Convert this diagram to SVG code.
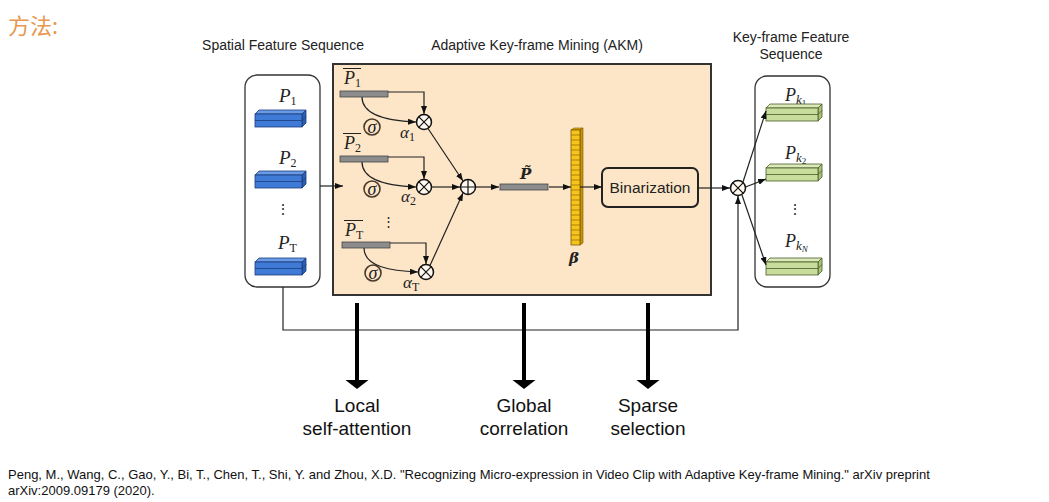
<svg xmlns="http://www.w3.org/2000/svg" xmlns:xlink="http://www.w3.org/1999/xlink" width="1049" height="502" viewBox="0 0 1049 502">
<style>
.lbl{font-family:"Liberation Sans",Arial,sans-serif;fill:#222;}
.hdr{font-size:14px;text-anchor:middle;}
.big{font-size:19px;text-anchor:middle;fill:#111;}
.cite{font-size:13px;fill:#111;}
.math{font-family:"Liberation Serif","DejaVu Serif",serif;font-style:italic;fill:#222;}
.sub{font-style:normal;font-size:12px;}
.ln{fill:none;stroke:#222;stroke-width:1.2;}
.sig{fill:none;stroke:#4a3a2a;stroke-width:1.6;}
.bar{fill:#8c8c8c;stroke:#444;stroke-width:0.8;}
.thick{stroke:#000;stroke-width:4;}
</style>
<defs>
<marker id="ah" viewBox="0 0 8 6" markerWidth="8" markerHeight="6" refX="8" refY="3" orient="auto" markerUnits="userSpaceOnUse">
<path d="M0,0 L8,3 L0,6 z" fill="#111"/>
</marker>
<g id="blueBlock">
<path d="M0,4 L4,0 L51,0 L47,4 z" fill="#6a9be6" stroke="#1c3c7c" stroke-width="0.8"/>
<path d="M47,4 L51,0 L51,13 L47,17 z" fill="#2d5fb0" stroke="#1c3c7c" stroke-width="0.8"/>
<rect x="0" y="4" width="47" height="13" fill="#3f7ad6" stroke="#1c3c7c" stroke-width="0.8"/>
<line x1="0" y1="10.5" x2="47" y2="10.5" stroke="#1c3c7c" stroke-width="0.8"/>
<line x1="47" y1="10.5" x2="51" y2="6.5" stroke="#1c3c7c" stroke-width="0.8"/>
</g>
<g id="greenBlock">
<path d="M0,4 L4,0 L56,0 L52,4 z" fill="#dbeab8" stroke="#4a5a2a" stroke-width="0.8"/>
<path d="M52,4 L56,0 L56,13 L52,17 z" fill="#a9c47a" stroke="#4a5a2a" stroke-width="0.8"/>
<rect x="0" y="4" width="52" height="13" fill="#c8dd9c" stroke="#4a5a2a" stroke-width="0.8"/>
<line x1="0" y1="10.5" x2="52" y2="10.5" stroke="#4a5a2a" stroke-width="0.8"/>
<line x1="52" y1="10.5" x2="56" y2="6.5" stroke="#4a5a2a" stroke-width="0.8"/>
</g>
<g id="otimes">
<circle cx="0" cy="0" r="7.5" fill="#fff8ee" stroke="#111" stroke-width="1.5"/>
<path d="M-5.3,-5.3 L5.3,5.3 M5.3,-5.3 L-5.3,5.3" stroke="#111" stroke-width="1.2"/>
</g>
<g id="sigma">
<circle cx="0" cy="0" r="8" class="sig"/>
</g>
</defs>

<rect width="1049" height="502" fill="#ffffff"/>

<text x="8" y="34" font-family="'Noto Sans CJK SC',sans-serif" font-size="22" fill="#E8974F">方法:</text>

<g id="headers">
<text class="lbl hdr" x="283" y="50">Spatial Feature Sequence</text>
<text class="lbl hdr" x="537" y="50">Adaptive Key-frame Mining (AKM)</text>
<text class="lbl hdr" x="791" y="42">Key-frame Feature</text>
<text class="lbl hdr" x="791" y="59">Sequence</text>
</g>

<g id="spatial-seq">
<rect x="245" y="75" width="75" height="212" rx="12" fill="#fff" stroke="#333" stroke-width="1.3"/>
<text class="math" x="279" y="102" font-size="19">P<tspan class="sub" dy="3">1</tspan></text>
<use xlink:href="#blueBlock" x="255" y="110"/>
<text class="math" x="279" y="164" font-size="19">P<tspan class="sub" dy="3">2</tspan></text>
<use xlink:href="#blueBlock" x="255" y="171"/>
<text class="lbl" x="283" y="214" font-size="14" text-anchor="middle">⋮</text>
<text class="math" x="278" y="249" font-size="19">P<tspan class="sub" dy="3" font-style="italic">T</tspan></text>
<use xlink:href="#blueBlock" x="255" y="258"/>
</g>

<g id="akm">
<rect x="333" y="64" width="378" height="231" fill="#fde6c8" stroke="#333" stroke-width="2"/>
</g>

<g id="branch-1">
<text class="math" x="344" y="84" font-size="18">P<tspan class="sub" dy="3">1</tspan></text>
<line x1="343" y1="68.5" x2="361" y2="68.5" stroke="#222" stroke-width="1"/>
<rect class="bar" x="340" y="91" width="48" height="6"/>
<use xlink:href="#sigma" x="372" y="127"/>
<text class="math" x="372" y="132.5" font-size="18" text-anchor="middle">σ</text>
<text class="math" x="400" y="138" font-size="17">α<tspan class="sub" dy="3">1</tspan></text>
<use xlink:href="#otimes" x="424" y="122"/>
</g>

<g id="branch-2">
<text class="math" x="344" y="149" font-size="18">P<tspan class="sub" dy="3">2</tspan></text>
<line x1="343" y1="133.5" x2="361" y2="133.5" stroke="#222" stroke-width="1"/>
<rect class="bar" x="340" y="156" width="48" height="6"/>
<use xlink:href="#sigma" x="372" y="189"/>
<text class="math" x="372" y="194.5" font-size="18" text-anchor="middle">σ</text>
<text class="math" x="401" y="202" font-size="17">α<tspan class="sub" dy="3">2</tspan></text>
<use xlink:href="#otimes" x="424" y="187"/>
</g>

<text class="lbl" x="388" y="226" font-size="13" text-anchor="middle">⋮</text>

<g id="branch-T">
<text class="math" x="345" y="236" font-size="18">P<tspan class="sub" dy="3" font-style="italic">T</tspan></text>
<line x1="344" y1="220.5" x2="363" y2="220.5" stroke="#222" stroke-width="1"/>
<rect class="bar" x="342" y="242" width="48" height="6"/>
<use xlink:href="#sigma" x="373" y="273"/>
<text class="math" x="373" y="278.5" font-size="18" text-anchor="middle">σ</text>
<text class="math" x="403" y="288" font-size="17">α<tspan class="sub" dy="3" font-style="italic">T</tspan></text>
<use xlink:href="#otimes" x="426" y="272"/>
</g>

<g id="sum">
<circle cx="468" cy="187" r="7.5" fill="#fff8ee" stroke="#111" stroke-width="1.5"/>
<path d="M460.5,187 L475.5,187 M468,179.5 L468,194.5" stroke="#111" stroke-width="1.2"/>
</g>

<g id="p-tilde">
<text x="520" y="179" font-family="'DejaVu Serif',serif" font-style="italic" font-weight="bold" font-size="15" fill="#222">P̃</text>
<rect class="bar" x="500" y="184" width="48" height="6"/>
</g>

<g id="beta">
<path d="M571,130 L574,128 L583,128 L580,130 z" fill="#e0a800" stroke="#7a5a00" stroke-width="0.6"/>
<path d="M580,130 L583,128 L583,243 L580,245 z" fill="#c89200" stroke="#7a5a00" stroke-width="0.6"/>
<rect x="571" y="130" width="9" height="115" fill="#f6c41a" stroke="#7a5a00" stroke-width="0.8"/>
<path d="M571,135 h9 M571,140 h9 M571,145 h9 M571,150 h9 M571,155 h9 M571,160 h9 M571,165 h9 M571,170 h9 M571,175 h9 M571,180 h9 M571,185 h9 M571,190 h9 M571,195 h9 M571,200 h9 M571,205 h9 M571,210 h9 M571,215 h9 M571,220 h9 M571,225 h9 M571,230 h9 M571,235 h9 M571,240 h9" stroke="#7a5a00" stroke-width="0.6"/>
<text x="574" y="263" font-family="'DejaVu Serif',serif" font-style="italic" font-weight="bold" font-size="15" fill="#222" text-anchor="middle">β</text>
</g>

<g id="binarization">
<rect x="602" y="168" width="96" height="39" rx="6" fill="#fde6c8" stroke="#222" stroke-width="2"/>
<text class="lbl" x="650" y="193" font-size="15.5" text-anchor="middle">Binarization</text>
</g>

<g id="mask-mult">
<use xlink:href="#otimes" x="738" y="188"/>
</g>

<g id="keyframe-seq">
<rect x="755" y="76" width="75" height="211" rx="12" fill="#fff" stroke="#333" stroke-width="1.3"/>
<text class="math" x="785" y="101" font-size="18">P<tspan dy="3" font-size="13">k</tspan><tspan dy="2" font-size="9" font-style="normal">1</tspan></text>
<use xlink:href="#greenBlock" x="766" y="104"/>
<text class="math" x="785" y="159" font-size="18">P<tspan dy="3" font-size="13">k</tspan><tspan dy="2" font-size="9" font-style="normal">2</tspan></text>
<use xlink:href="#greenBlock" x="766" y="164"/>
<text class="lbl" x="795" y="214" font-size="14" text-anchor="middle">⋮</text>
<text class="math" x="785" y="247" font-size="18">P<tspan dy="3" font-size="13">k</tspan><tspan dy="2" font-size="9">N</tspan></text>
<use xlink:href="#greenBlock" x="766" y="258"/>
</g>

<g id="connectors">
<line class="ln" x1="320" y1="186" x2="343" y2="186" marker-end="url(#ah)"/>
<path class="ln" d="M388,92 H424 V114" marker-end="url(#ah)"/>
<path class="ln" d="M388,157 H424 V179" marker-end="url(#ah)"/>
<path class="ln" d="M390,243 H426 V264" marker-end="url(#ah)"/>
<path class="ln" d="M362,97 C362,116 390,121 416,122" marker-end="url(#ah)"/>
<path class="ln" d="M362,162 C362,181 390,186 416,187" marker-end="url(#ah)"/>
<path class="ln" d="M364,248 C364,267 392,271 418,272" marker-end="url(#ah)"/>
<line class="ln" x1="428" y1="128.5" x2="463" y2="181" marker-end="url(#ah)"/>
<line class="ln" x1="431.5" y1="187" x2="460" y2="187" marker-end="url(#ah)"/>
<line class="ln" x1="430" y1="265.5" x2="463" y2="193" marker-end="url(#ah)"/>
<line class="ln" x1="476" y1="187" x2="499" y2="187" marker-end="url(#ah)"/>
<line class="ln" x1="549" y1="187" x2="571" y2="187" marker-end="url(#ah)"/>
<line class="ln" x1="580" y1="187" x2="602" y2="187" marker-end="url(#ah)"/>
<line class="ln" x1="698" y1="188" x2="730" y2="188" marker-end="url(#ah)"/>
<line class="ln" x1="743" y1="182" x2="766" y2="111" marker-end="url(#ah)"/>
<line class="ln" x1="745.5" y1="187" x2="766" y2="179" marker-end="url(#ah)"/>
<line class="ln" x1="742" y1="195" x2="766" y2="265" marker-end="url(#ah)"/>
<path class="ln" d="M283,287 V330 H738 V196" marker-end="url(#ah)"/>
</g>

<g id="focus-arrows">
<line class="thick" x1="357" y1="303" x2="357" y2="381"/>
<polygon points="345.5,380 368.5,380 357,389" fill="#000"/>
<line class="thick" x1="524" y1="303" x2="524" y2="381"/>
<polygon points="512.5,380 535.5,380 524,389" fill="#000"/>
<line class="thick" x1="648" y1="303" x2="648" y2="381"/>
<polygon points="636.5,380 659.5,380 648,389" fill="#000"/>
</g>

<g id="focus-labels">
<text class="lbl big" x="357" y="412">Local</text>
<text class="lbl big" x="357" y="435">self-attention</text>
<text class="lbl big" x="524" y="412">Global</text>
<text class="lbl big" x="524" y="435">correlation</text>
<text class="lbl big" x="648" y="412">Sparse</text>
<text class="lbl big" x="648" y="435">selection</text>
</g>

<g id="citation">
<text class="lbl cite" x="8" y="479">Peng, M., Wang, C., Gao, Y., Bi, T., Chen, T., Shi, Y. and Zhou, X.D. "Recognizing Micro-expression in Video Clip with Adaptive Key-frame Mining." arXiv preprint</text>
<text class="lbl cite" x="8" y="495">arXiv:2009.09179 (2020).</text>
</g>
</svg>
